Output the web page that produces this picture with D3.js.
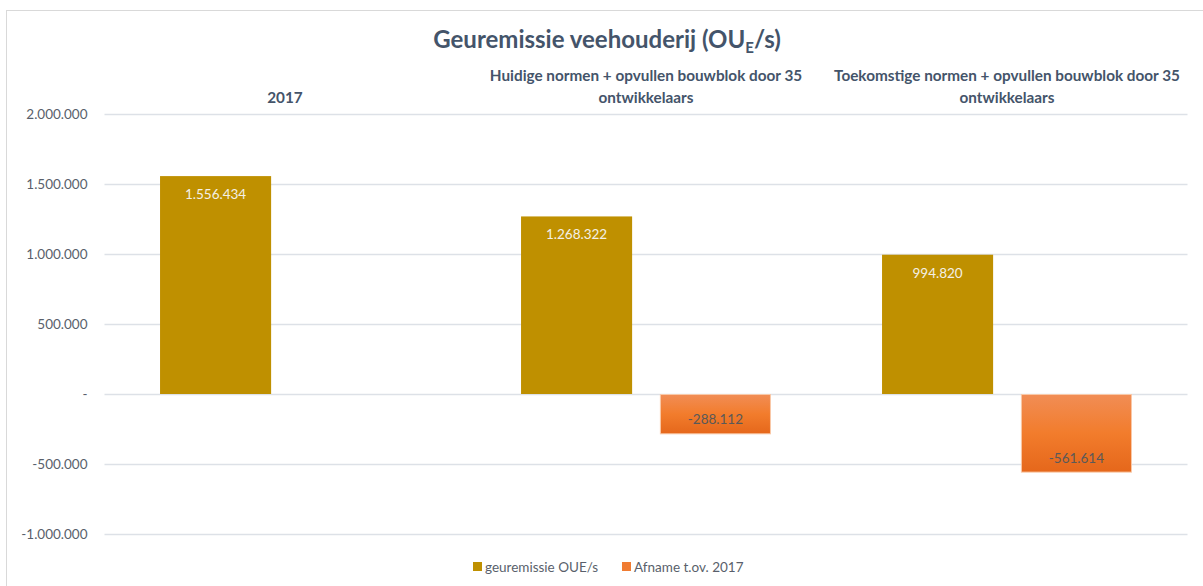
<!DOCTYPE html>
<html>
<head>
<meta charset="utf-8">
<script src="https://cdn.jsdelivr.net/npm/d3@7"></script>
<style>
  html, body { margin: 0; padding: 0; background: #ffffff; }
  svg { display: block; font-family: Lato, "Open Sans", sans-serif; }
</style>
</head>
<body>
<svg id="chart" width="1203" height="586"></svg>
<script>
// Odour emission of livestock farming per scenario (OU_E/s)
const categories = [
  "2017",
  "Huidige normen + opvullen bouwblok door 35 ontwikkelaars",
  "Toekomstige normen + opvullen bouwblok door 35 ontwikkelaars"
];
const categoryLines = [
  ["2017"],
  ["Huidige normen + opvullen bouwblok door 35", "ontwikkelaars"],
  ["Toekomstige normen + opvullen bouwblok door 35", "ontwikkelaars"]
];
const seriesNames = ["geuremissie OUE/s", "Afname t.ov. 2017"];
const emission = [1556434, 1268322, 994820];
const decrease = [null, -288112, -561614];
const yTicks = [-1000000, -500000, 0, 500000, 1000000, 1500000, 2000000];

const svg = d3.select("#chart");
const plot = { left: 104.5, right: 1187.5, top: 114, bottom: 534 };

const nl = d3.formatLocale({ decimal: ",", thousands: ".", grouping: [3], currency: ["€", ""], minus: "-" });
const fmt = nl.format(",.0f");
const tickFmt = v => v === 0 ? "-" : fmt(v);

const x = d3.scaleBand().domain(categories).range([plot.left, plot.right]).paddingInner(0).paddingOuter(0);
const x1 = d3.scaleBand().domain(seriesNames).range([0, x.bandwidth()]).paddingInner(0.2).paddingOuter(0.4);
const y = d3.scaleLinear().domain([-1000000, 2000000]).range([plot.bottom, plot.top]);

const colors = { gold: "#BF9000", orange: "#ED7D31" };

// gradient for the decrease bars
const defs = svg.append("defs");
const grad = defs.append("linearGradient").attr("id", "orangeGrad")
  .attr("x1", 0).attr("y1", 0).attr("x2", 0).attr("y2", 1);
grad.append("stop").attr("offset", "0%").attr("stop-color", "#F18D55");
grad.append("stop").attr("offset", "50%").attr("stop-color", "#F27C2C");
grad.append("stop").attr("offset", "100%").attr("stop-color", "#E5671B");

// chart frame
svg.append("rect")
  .attr("x", 6.5).attr("y", 10.5).attr("width", 1210).attr("height", 600)
  .attr("fill", "none").attr("stroke", "#D9D9D9").attr("stroke-width", 1);

// gridlines + y axis labels
const yAxis = d3.axisLeft(y).tickValues(yTicks).tickFormat(tickFmt)
  .tickSize(-(plot.right - plot.left)).tickPadding(17);
const gy = svg.append("g").attr("transform", `translate(${plot.left},0)`).call(yAxis);
gy.select(".domain").remove();
gy.selectAll(".tick line").attr("stroke", "#DDE1E7").attr("stroke-width", 1.4);
gy.selectAll(".tick text")
  .attr("fill", "#595F6B").style("font-size", "13.5px").style("font-family", "Lato, sans-serif");

// title
const title = svg.append("text")
  .attr("x", 607).attr("y", 48).attr("text-anchor", "middle")
  .attr("fill", "#44546A").style("font-size", "24px").style("font-weight", "700");
title.append("tspan").text("Geuremissie veehouderij (OU");
title.append("tspan").attr("dy", 5).style("font-size", "15px").text("E");
title.append("tspan").attr("dy", -5).text("/s)");

// category labels above the plot
const catG = svg.append("g");
categories.forEach((c, i) => {
  const lines = categoryLines[i];
  const cx = x(c) + x.bandwidth() / 2;
  const t = catG.append("text").attr("text-anchor", "middle")
    .attr("fill", "#44546A").style("font-size", "15.3px").style("font-weight", "700");
  lines.forEach((ln, j) => {
    const fromBottom = lines.length - 1 - j;
    t.append("tspan").attr("x", cx).attr("y", 103 - fromBottom * 22).text(ln);
  });
});

// bars
const rows = categories.map((c, i) => ({ cat: c, emission: emission[i], decrease: decrease[i] }));

const groups = svg.append("g").selectAll("g").data(rows).join("g")
  .attr("transform", d => `translate(${x(d.cat)},0)`);

groups.append("rect")
  .attr("x", x1(seriesNames[0]))
  .attr("y", d => y(d.emission))
  .attr("width", x1.bandwidth())
  .attr("height", d => y(0) - y(d.emission))
  .attr("fill", colors.gold);

groups.append("text")
  .attr("x", x1(seriesNames[0]) + x1.bandwidth() / 2)
  .attr("y", d => y(d.emission) + 23)
  .attr("text-anchor", "middle")
  .attr("fill", "#F4F0E6").style("font-size", "13.5px")
  .text(d => fmt(d.emission));

const decG = groups.filter(d => d.decrease != null);

decG.append("rect")
  .attr("x", x1(seriesNames[1]) + 0.5)
  .attr("y", y(0) + 0.5)
  .attr("width", x1.bandwidth() - 1)
  .attr("height", d => y(d.decrease) - y(0) - 1)
  .attr("fill", "url(#orangeGrad)")
  .attr("stroke", "#F9C9A8").attr("stroke-width", 1);

decG.append("text")
  .attr("x", x1(seriesNames[1]) + x1.bandwidth() / 2)
  .attr("y", d => y(d.decrease) - 10)
  .attr("text-anchor", "middle")
  .attr("fill", "#595959").style("font-size", "13.5px")
  .text(d => fmt(d.decrease));

// legend
const legend = svg.append("g").attr("transform", "translate(0,567)");
const legendItems = [
  { name: seriesNames[0], color: colors.gold, x: 473 },
  { name: seriesNames[1], color: "#F07C32", x: 622 }
];
legendItems.forEach(it => {
  legend.append("rect").attr("x", it.x).attr("y", -5).attr("width", 9).attr("height", 9).attr("fill", it.color);
  legend.append("text").attr("x", it.x + 12).attr("y", 4.5)
    .attr("fill", "#595F6B").style("font-size", "13.5px").text(it.name);
});
</script>
</body>
</html>
